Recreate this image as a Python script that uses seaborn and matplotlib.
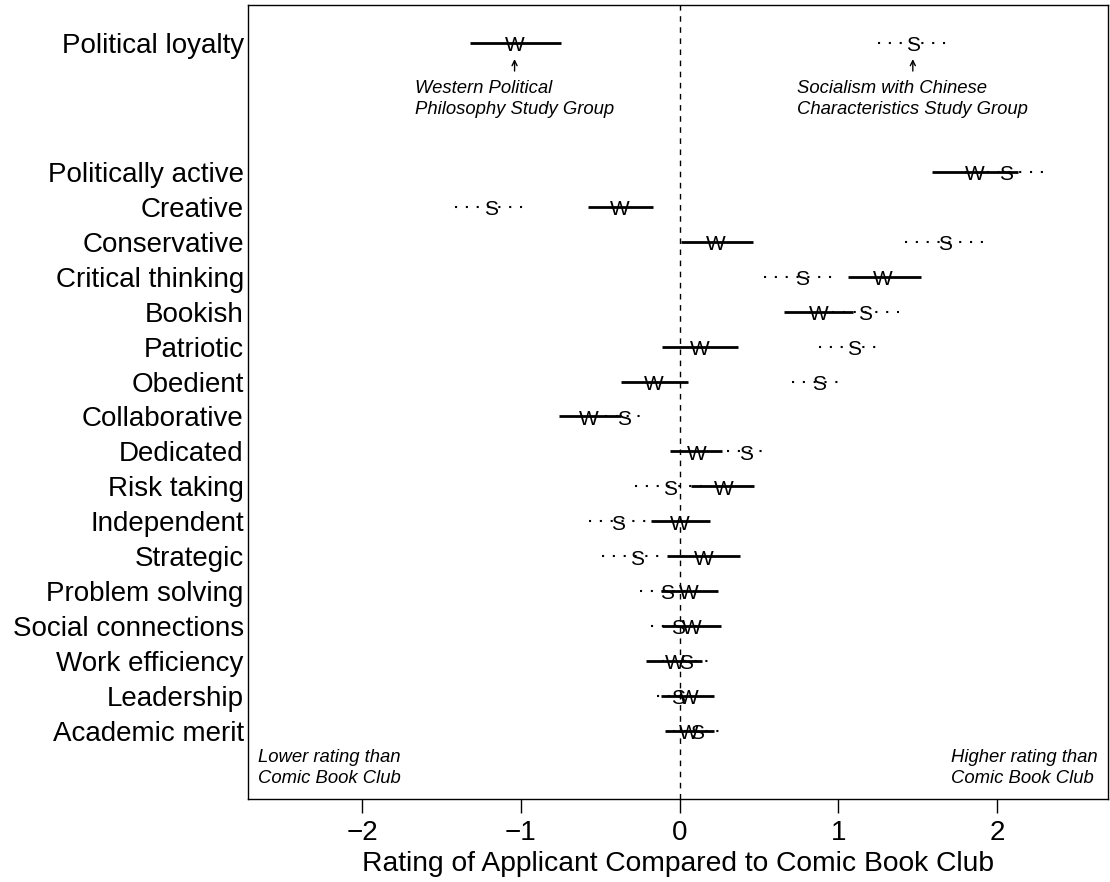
import numpy as np
import pandas as pd
import matplotlib
matplotlib.use("Agg")
import matplotlib.pyplot as plt
import matplotlib.transforms as mtransforms
import seaborn as sns

# Traits, top to bottom (the first one is set apart from the rest)
traits = ["Political loyalty", "Politically active", "Creative", "Conservative",
          "Critical thinking", "Bookish", "Patriotic", "Obedient", "Collaborative",
          "Dedicated", "Risk taking", "Independent", "Strategic", "Problem solving",
          "Social connections", "Work efficiency", "Leadership", "Academic merit"]

# Western Political Philosophy Study Group (W): estimate and interval
w_est = [-1.04, 1.86, -0.38, 0.23, 1.28, 0.88, 0.13, -0.16, -0.57,
         0.11, 0.28, 0.00, 0.15, 0.06, 0.08, -0.03, 0.06, 0.06]
w_lo = [-1.32, 1.59, -0.58, 0.01, 1.06, 0.66, -0.11, -0.37, -0.76,
        -0.06, 0.07, -0.18, -0.08, -0.12, -0.11, -0.21, -0.12, -0.09]
w_hi = [-0.75, 2.13, -0.17, 0.46, 1.52, 1.09, 0.37, 0.05, -0.37,
        0.27, 0.47, 0.19, 0.38, 0.24, 0.26, 0.14, 0.22, 0.22]

# Socialism with Chinese Characteristics Study Group (S): estimate and interval
s_est = [1.47, 2.06, -1.19, 1.67, 0.77, 1.17, 1.10, 0.88, -0.35,
         0.42, -0.06, -0.39, -0.27, -0.08, -0.01, 0.04, -0.01, 0.11]
s_lo = [1.25, 1.80, -1.415, 1.42, 0.53, 0.96, 0.88, 0.71, -0.47,
        0.30, -0.28, -0.57, -0.49, -0.25, -0.18, -0.11, -0.14, -0.04]
s_hi = [1.69, 2.32, -0.98, 1.91, 1.00, 1.38, 1.26, 1.02, -0.23,
        0.53, 0.14, -0.20, -0.10, 0.09, 0.16, 0.19, 0.12, 0.26]

xticks = [-2, -1, 0, 1, 2]
xlabel = "Rating of Applicant Compared to Comic Book Club"
w_note = "Western Political\nPhilosophy Study Group"
s_note = "Socialism with Chinese\nCharacteristics Study Group"
low_note = "Lower rating than\nComic Book Club"
high_note = "Higher rating than\nComic Book Club"

sns.set_theme(style="white")
plt.rcParams["font.family"] = ["Liberation Sans", "DejaVu Sans"]
plt.rcParams["axes.unicode_minus"] = True
for key in ["text.color", "axes.labelcolor", "xtick.color", "ytick.color",
            "axes.edgecolor"]:
    plt.rcParams[key] = "black"

# Row positions: evenly spaced, with an extra gap below the first trait
n = len(traits)
ypos = np.arange(n, 0, -1, dtype=float)
ypos[0] = ypos[1] + 3.69

df = pd.DataFrame({"trait": traits, "y": ypos,
                   "w_est": w_est, "w_lo": w_lo, "w_hi": w_hi,
                   "s_est": s_est, "s_lo": s_lo, "s_hi": s_hi})

fig = plt.figure(figsize=(11.10, 8.82), dpi=100)
ax = fig.add_axes([248 / 1110, 1 - 799 / 882, 860 / 1110, 794 / 882])

# Reference line at zero
ax.axvline(0, color="black", lw=1.0, ls=(0, (4, 4)), zorder=1)

# Intervals: solid for W, dotted for S
ax.hlines(df["y"], df["w_lo"], df["w_hi"], color="black", lw=2.0, zorder=2)
ax.hlines(df["y"], df["s_lo"], df["s_hi"], color="black", lw=1.5,
          linestyles=[(0, (1, 4.2))], zorder=2)

# Letters at the estimates, glyphs centred on the interval line
letter_tr = ax.transData + mtransforms.ScaledTranslation(0, -0.6 / 72,
                                                         fig.dpi_scale_trans)
for _, r in df.iterrows():
    ax.text(r["w_est"], r["y"], "W", ha="center", va="center_baseline",
            fontsize=15, color="black", zorder=3, transform=letter_tr)
    ax.text(r["s_est"], r["y"], "S", ha="center", va="center_baseline",
            fontsize=15, color="black", zorder=3, transform=letter_tr)

# Group labels under the first trait
top = df.iloc[0]
for est, note in [(top["w_est"], w_note), (top["s_est"], s_note)]:
    ax.annotate("", xy=(est, top["y"] - 0.38), xytext=(est, top["y"] - 0.88),
                arrowprops=dict(arrowstyle="->", lw=1.0, color="black",
                                mutation_scale=9))
    ax.text(est, top["y"] - 1.06, note, ha="center", va="top",
            multialignment="left", fontsize=13.3, style="italic",
            linespacing=1.3)

ax.set_xlim(-2.72, 2.70)
ax.set_ylim(-0.95, ypos[1] + 4.78)

# Direction notes in the lower corners
ax.text(0.012, 0.063, low_note, transform=ax.transAxes, ha="left", va="top",
        multialignment="left", fontsize=13.3, style="italic", linespacing=1.3)
ax.text(0.988, 0.063, high_note, transform=ax.transAxes, ha="right", va="top",
        multialignment="left", fontsize=13.3, style="italic", linespacing=1.3)

ax.set_yticks(df["y"])
ax.set_yticklabels(df["trait"], fontsize=20)
ax.set_xticks(xticks)
ax.set_xticklabels([f"{t:d}".replace("-", "\u2212") for t in xticks], fontsize=20)
ax.set_xlabel(xlabel, fontsize=20.3, labelpad=4)

ax.tick_params(axis="x", which="both", bottom=True, length=10, width=1.0,
               direction="out", pad=5, color="black")
ax.tick_params(axis="y", which="both", left=False, length=0, pad=3)

for sp in ax.spines.values():
    sp.set_visible(True)
    sp.set_color("black")
    sp.set_linewidth(1.0)

fig.savefig("out.png", dpi=100, facecolor="white")
